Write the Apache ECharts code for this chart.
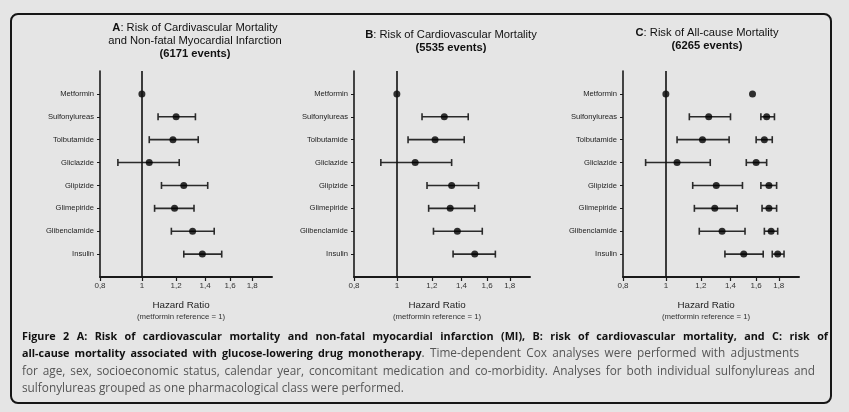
<!DOCTYPE html>
<html><head><meta charset="utf-8">
<script src="https://cdn.jsdelivr.net/npm/echarts@6/dist/echarts.min.js"></script>
<style>html,body{margin:0;padding:0;background:#e5e5e5;}#c{width:849px;height:412px;}</style>
</head><body><div id="c"></div>
<script>
const categories = ['Metformin','Sulfonylureas','Tolbutamide','Gliclazide','Glipizide','Glimepiride','Glibenclamide','Insulin'];
const xTickValues = [0.8, 1, 1.2, 1.4, 1.6, 1.8];
const xMin = 0.8, xMax = 2.0;

const A_hr = [1, 1.20, 1.18, 1.04, 1.25, 1.19, 1.31, 1.38];
const A_lo = [null, 1.09, 1.04, 0.88, 1.11, 1.07, 1.17, 1.25];
const A_hi = [null, 1.33, 1.35, 1.22, 1.42, 1.32, 1.47, 1.53];

const B_hr = [1, 1.28, 1.22, 1.10, 1.33, 1.32, 1.37, 1.50];
const B_lo = [null, 1.14, 1.06, 0.92, 1.17, 1.18, 1.21, 1.34];
const B_hi = [null, 1.45, 1.42, 1.33, 1.53, 1.50, 1.56, 1.67];

const C_hr = [1, 1.25, 1.21, 1.06, 1.30, 1.29, 1.34, 1.50];
const C_lo = [null, 1.13, 1.06, 0.90, 1.15, 1.16, 1.19, 1.36];
const C_hi = [null, 1.40, 1.39, 1.26, 1.49, 1.45, 1.51, 1.66];

const C2_hr = [1.57, 1.69, 1.67, 1.60, 1.71, 1.71, 1.73, 1.79];
const C2_lo = [null, 1.64, 1.60, 1.52, 1.64, 1.65, 1.67, 1.74];
const C2_hi = [null, 1.76, 1.74, 1.69, 1.78, 1.78, 1.79, 1.85];

const panelTitles = [
  '{b|A}: Risk of Cardivascular Mortality\nand Non-fatal Myocardial Infarction\n{b|(6171 events)}',
  '{b|B}: Risk of Cardiovascular Mortality\n{b|(5535 events)}',
  '{b|C}: Risk of All-cause Mortality\n{b|(6265 events)}'
];
const xAxisTitle = 'Hazard Ratio';
const xAxisSubtitle = '(metformin reference = 1)';
const captionLines = [
  [['b','Figure 2 A: Risk of cardiovascular mortality and non-fatal myocardial infarction (MI), B: risk of cardiovascular mortality, and C: risk of']],
  [['b','all-cause mortality associated with glucose-lowering drug monotherapy'],['r','. Time-dependent Cox analyses were performed with adjustments']],
  [['r','for age, sex, socioeconomic status, calendar year, concomitant medication and co-morbidity. Analyses for both individual sulfonylureas and']],
  [['r','sulfonylureas grouped as one pharmacological class were performed.']]
];
const captionRight = [828, 799, 815, null];

const grids = [
  {left: 100, top: 71, width: 172, height: 206, titleX: 195, titleY: 22},
  {left: 354, top: 71, width: 176, height: 206, titleX: 451, titleY: 29},
  {left: 623, top: 71, width: 176, height: 206, titleX: 707, titleY: 27}
];
const padded = [''].concat(categories).concat(['']);
const ln = Math.log;
const fmt = v => { const r = Math.round(Math.exp(v) * 10) / 10; return String(r).replace('.', ','); };
const FONT = 'Liberation Sans';

const xAxes = [], yAxes = [], series = [], graphics = [];
grids.forEach((g, i) => {
  xAxes.push({
    type: 'value', gridIndex: i, min: ln(xMin), max: ln(xMax),
    axisLine: {show: true, onZero: false, lineStyle: {color: '#1a1a1a', width: 2}},
    axisTick: {show: true, length: 4, lineStyle: {color: '#1a1a1a', width: 1.2}, customValues: xTickValues.map(ln)},
    axisLabel: {show: true, customValues: xTickValues.map(ln), formatter: fmt, fontSize: 8, color: '#333', margin: 5, fontFamily: FONT},
    splitLine: {show: false},
    name: '{a|' + xAxisTitle + '}\n{s|' + xAxisSubtitle + '}',
    nameLocation: 'middle', nameGap: 22,
    nameTextStyle: {padding: [0, 10, 0, 0], rich: {
      a: {fontSize: 9.8, color: '#222', fontFamily: FONT, lineHeight: 12},
      s: {fontSize: 7.8, color: '#333', fontFamily: FONT, lineHeight: 11}
    }}
  });
  yAxes.push({
    type: 'category', gridIndex: i, data: padded, inverse: true, boundaryGap: false,
    axisLine: {show: true, onZero: false, lineStyle: {color: '#1a1a1a', width: 1.6}},
    axisTick: {show: true, length: 3, interval: (idx, v) => v !== '', lineStyle: {color: '#1a1a1a', width: 1}},
    axisLabel: {show: true, interval: (idx, v) => v !== '', fontSize: 7.6, color: '#222', margin: 6, fontFamily: FONT},
    splitLine: {show: false}
  });
  graphics.push({
    type: 'text', x: g.titleX, y: g.titleY,
    style: {text: panelTitles[i], textAlign: 'center', textVerticalAlign: 'top', fontSize: 11.2, fontFamily: FONT, fill: '#111', lineHeight: 12.8,
      rich: {b: {fontWeight: 'bold', fontSize: 11.2, fontFamily: FONT, fill: '#111'}}}
  });
});

function errSeries(idx, lo, hi) {
  const data = [];
  categories.forEach((c, k) => { if (lo[k] != null) data.push([ln(lo[k]), ln(hi[k]), c]); });
  return {
    type: 'custom', xAxisIndex: idx, yAxisIndex: idx, data: data,
    encode: {x: [0, 1], y: 2}, silent: true, z: 2,
    renderItem: (params, api) => {
      const y = api.value(2);
      const p1 = api.coord([api.value(0), y]);
      const p2 = api.coord([api.value(1), y]);
      const h = 3.5;
      const st = {stroke: '#2a2a2a', lineWidth: 1.6};
      return {type: 'group', children: [
        {type: 'line', shape: {x1: p1[0], y1: p1[1], x2: p2[0], y2: p2[1]}, style: st},
        {type: 'line', shape: {x1: p1[0], y1: p1[1] - h, x2: p1[0], y2: p1[1] + h}, style: st},
        {type: 'line', shape: {x1: p2[0], y1: p2[1] - h, x2: p2[0], y2: p2[1] + h}, style: st}
      ]};
    }
  };
}
function ptSeries(idx, hr, withLine) {
  const s = {
    type: 'scatter', xAxisIndex: idx, yAxisIndex: idx, symbol: 'circle', symbolSize: 7,
    itemStyle: {color: '#000'}, z: 3, silent: true,
    data: categories.map((c, k) => [ln(hr[k]), c])
  };
  if (withLine) {
    s.markLine = {silent: true, symbol: ['none', 'none'], label: {show: false},
      lineStyle: {color: '#111', width: 1.6, type: 'solid'}, data: [{xAxis: ln(1)}], animation: false};
  }
  return s;
}
series.push(errSeries(0, A_lo, A_hi), ptSeries(0, A_hr, true));
series.push(errSeries(1, B_lo, B_hi), ptSeries(1, B_hr, true));
series.push(errSeries(2, C_lo, C_hi), ptSeries(2, C_hr, true));
series.push(errSeries(2, C2_lo, C2_hi), ptSeries(2, C2_hr, false));

// frame
graphics.push({type: 'rect', shape: {x: 11, y: 14, width: 820, height: 389, r: 7},
  style: {fill: 'none', stroke: '#161616', lineWidth: 2}, z: -1});

// caption (justified word layout)
const capStyle = {
  b: {family: 'Open Sans', weight: 'bold', size: 10.8, fill: '#111'},
  r: {family: 'Open Sans', weight: 'normal', size: 11.8, fill: '#555'}
};
const mctx = document.createElement('canvas').getContext('2d');
const cssFont = s => s.weight + ' ' + s.size + 'px "' + s.family + '"';
const measure = (txt, s) => { mctx.font = cssFont(s); return mctx.measureText(txt).width; };
captionLines.forEach((line, k) => {
  const tokens = [];
  line.forEach(([st, txt]) => {
    txt.split(' ').forEach((w, j) => {
      if (w === '') return;
      tokens.push({st: st, w: w, gap: tokens.length > 0 && !(j === 0 && txt[0] !== ' ')});
    });
  });
  // merge no-gap tokens into groups for width; keep separate render
  let natural = 0, nGaps = 0;
  tokens.forEach(t => {
    t.width = measure(t.w, capStyle[t.st]);
    natural += t.width;
    if (t.gap) { t.space = measure(' ', capStyle[t.st]); natural += t.space; nGaps++; }
  });
  const extra = captionRight[k] != null && nGaps > 0 ? (captionRight[k] - 22 - natural) / nGaps : 0;
  let x = 22;
  const y = 337 + k * 17.1;
  tokens.forEach(t => {
    if (t.gap) x += t.space + extra;
    const s = capStyle[t.st];
    graphics.push({type: 'text', x: x, y: y, silent: true,
      style: {text: t.w, textAlign: 'left', textVerticalAlign: 'middle', fontFamily: s.family, fontWeight: s.weight, fontSize: s.size, fill: s.fill}});
    x += t.width;
  });
});

const chart = echarts.init(document.getElementById('c'), null, {renderer: 'canvas'});
chart.setOption({
  backgroundColor: '#e5e5e5',
  animation: false,
  grid: grids.map(g => ({left: g.left, top: g.top, width: g.width, height: g.height})),
  xAxis: xAxes, yAxis: yAxes, series: series, graphic: graphics
});
</script></body></html>
